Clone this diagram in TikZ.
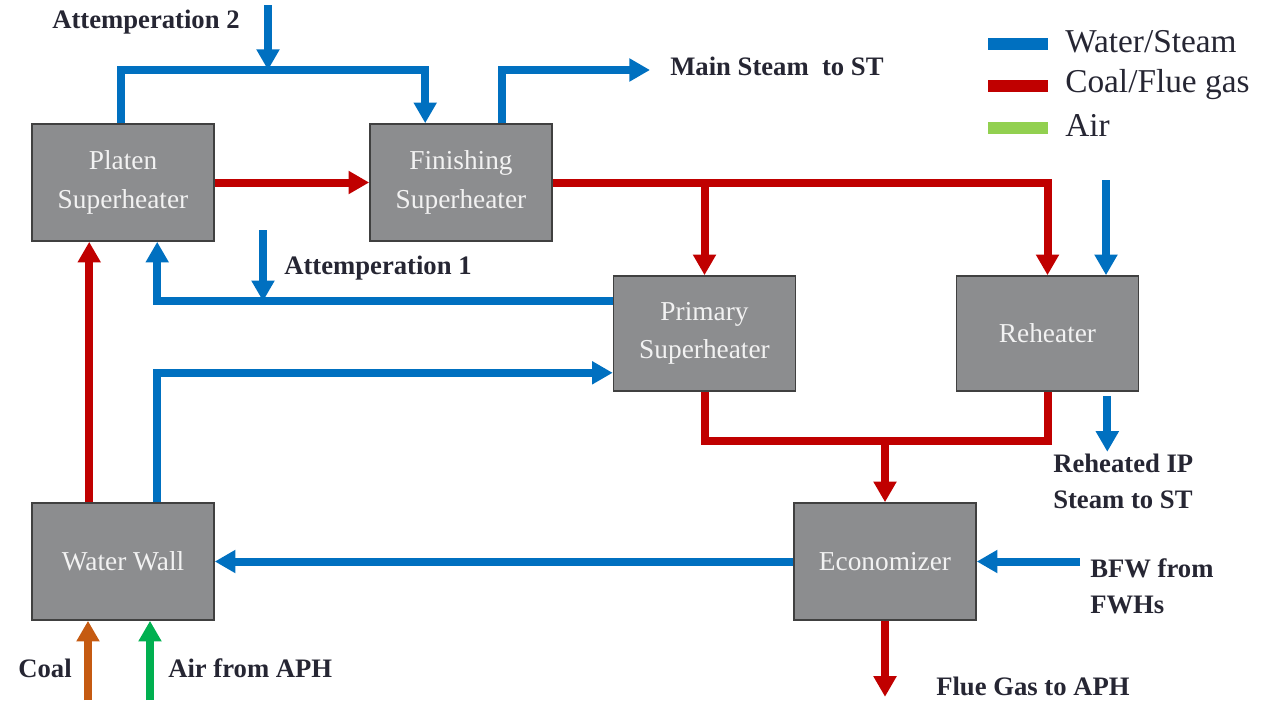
\documentclass[tikz,border=0pt]{standalone}
\usepackage{fontspec}
\setmainfont{Liberation Serif}
\usetikzlibrary{arrows.meta,calc}
\definecolor{steamblue}{HTML}{0070C0}
\definecolor{gasred}{HTML}{C00000}
\definecolor{coalorange}{HTML}{C55A11}
\definecolor{airgreen}{HTML}{00B050}
\definecolor{leggreen}{HTML}{92D050}
\definecolor{boxgray}{HTML}{8C8D8F}
\definecolor{boxedge}{HTML}{404040}
\definecolor{labeltext}{HTML}{262633}
\tikzset{
  unit/.style={draw=boxedge, line width=1.2pt, fill=boxgray, minimum width=136.5pt,
    minimum height=87.75pt, inner sep=0pt, align=center, text=white!95!black,
    font=\fontsize{20.5}{29}\selectfont},
  flow/.style={line width=6pt, line join=miter},
  steam/.style={flow, draw=steamblue},
  gas/.style={flow, draw=gasred},
  tipped/.style={-{Triangle[width=16.5pt,length=15.5pt]}},
  lbl/.style={text=labeltext, font=\fontsize{20}{27}\selectfont\bfseries, inner sep=0pt, align=left},
  legtext/.style={text=labeltext, font=\fontsize{25}{30}\selectfont, inner sep=0pt, anchor=west},
  legbar/.style={minimum width=45pt, minimum height=9pt, inner sep=0pt},
}
\begin{document}
\begin{tikzpicture}[x=0.75pt,y=-0.75pt]
\useasboundingbox (0,0) rectangle (1276,700);

% units
\node[unit] (platen) at (123,182.5) {Platen\\Superheater};
\node[unit] (finish) at (461,182.5) {Finishing\\Superheater};
\node[unit, minimum height=86.25pt] (primary) at (704.5,333.5) {Primary\\Superheater};
\node[unit, minimum height=86.25pt] (reheat) at (1047.5,333.5) {Reheater};
\node[unit] (wall) at (123,561.5) {Water Wall};
\node[unit] (econ) at (885,561.5) {Economizer};

% free ends and junctions
\coordinate (a2) at (268,5);
\coordinate (j2) at (268,70);
\coordinate (ms) at (650,70);
\coordinate (a1) at (263,230);
\coordinate (rhin) at (1106,180);
\coordinate (bfw) at (1080,561.5);
\coordinate (coal) at (88,700);
\coordinate (air) at (150,700);
\coordinate (jr) at ($(primary.south)+(0,49)$);
\coordinate (jp) at ($(primary.north west)+(0,26)$);

% water / steam
\draw[steam,tipped] (a2) -- (j2);
\draw[steam,tipped] ($(platen.north west)+(90,0)$) |- (j2) -| ($(finish.north west)+(56,0)$);
\draw[steam,tipped] ($(finish.north west)+(133,0)$) |- (ms);
\draw[steam,tipped] (jp) -| ($(platen.south west)+(126,0)$);
\draw[steam,tipped] (a1) -- (a1 |- jp);
\draw[steam,tipped] ($(wall.north west)+(126,0)$) |- ($(primary.south west)+(0,-19)$);
\draw[steam,tipped] (rhin) -- (rhin |- reheat.north);
\draw[steam,tipped] ($(reheat.south east)+(-32,4)$) -- ++(0,56);
\draw[steam,tipped] (econ.west) -- (wall.east);
\draw[steam,tipped] (bfw) -- (econ.east);

% coal / flue gas
\draw[gas,tipped] (platen.east) -- (finish.west);
\draw[gas,tipped] (finish.east) -| (reheat.north);
\draw[gas,tipped] (finish.east -| primary.north) -- (primary.north);
\draw[gas,tipped] ($(wall.north west)+(58,0)$) -- ($(platen.south west)+(58,0)$);
\draw[gas] (primary.south) -- (jr) -| (reheat.south);
\draw[gas,tipped] (jr -| econ.north) -- (econ.north);
\draw[gas,tipped] (econ.south) -- ++(0,76);

% coal and air inlets
\draw[flow,draw=coalorange,tipped] (coal) -- (coal |- wall.south);
\draw[flow,draw=airgreen,tipped] (air) -- (air |- wall.south);

% labels
\node[lbl, anchor=west] (tatt2) at (52,22) {Attemperation 2};
\node[lbl, anchor=west] (tatt1) at (284,268) {Attemperation 1};
\node[lbl, anchor=west] (tms) at (670,66) {Main Steam\ \ to ST};
\node[lbl, anchor=north west] (trh) at (1053,454) {Reheated IP\\Steam to ST};
\node[lbl, anchor=north west] (tbfw) at (1090,558) {BFW from\\FWHs};
\node[lbl, anchor=west] (tflue) at (936,686) {Flue Gas to APH};
\node[lbl, anchor=east] (tcoal) at (72,668) {Coal};
\node[lbl, anchor=west] (tair) at (168,668) {Air from APH};

% legend
\node[legbar, fill=steamblue] (lb1) at (1018,44) {};
\node[legbar, fill=gasred] (lb2) at (1018,86) {};
\node[legbar, fill=leggreen] (lb3) at (1018,128) {};
\node[legtext] (lt1) at (1065,42) {Water/Steam};
\node[legtext] (lt2) at (1065,85) {Coal/Flue gas};
\node[legtext] (lt3) at (1065,125) {Air};
\end{tikzpicture}
\end{document}
